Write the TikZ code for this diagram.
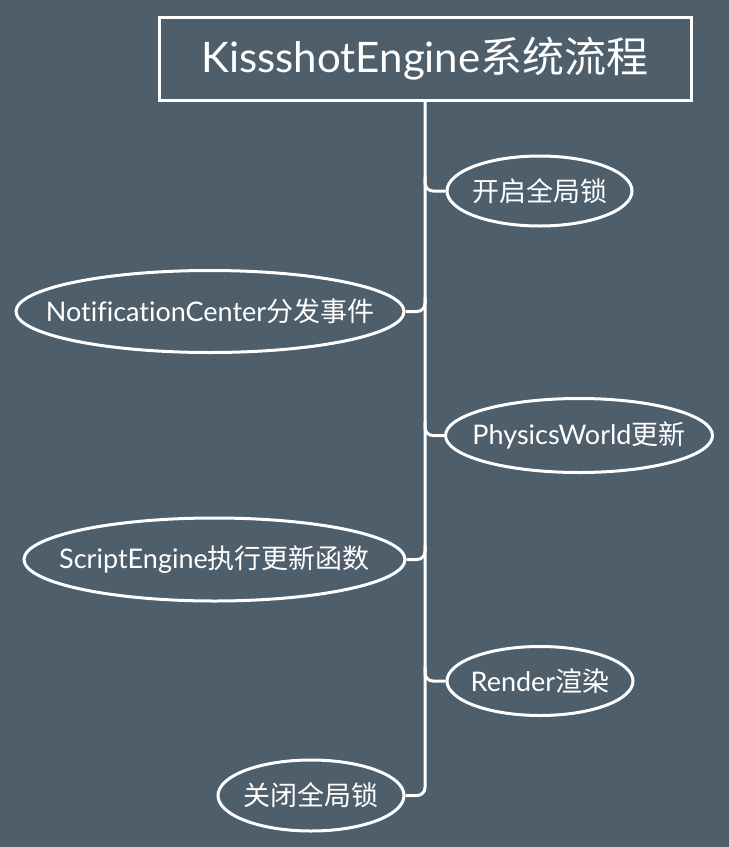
\documentclass[tikz,border=0pt]{standalone}
\usepackage{fontspec}
\setmainfont{Lato}[Ligatures=NoCommon]
\newfontfamily\cjk{Noto Sans CJK SC}
\usetikzlibrary{shapes.geometric}
\definecolor{slate}{HTML}{4F5E6B}
\newcommand\topictext[2]{\makebox[0pt]{#1{\cjk #2}}}
\tikzset{
  roottopic/.style={draw, line width=3pt, minimum width=532, minimum height=83,
    inner sep=0pt, font=\fontsize{42}{48}\selectfont},
  subtopic/.style={draw, ellipse, line width=3pt, inner sep=0pt,
    font=\fontsize{27}{31}\selectfont},
  link/.style={line width=3pt, rounded corners=8pt}
}
\begin{document}
\begin{tikzpicture}[x=1pt, y=-1pt, white]
\fill[slate] (0,0) rectangle (729,847);
\useasboundingbox (0,0) rectangle (729,847);

\node[roottopic] (root) at (425,58.5) {\topictext{KissshotEngine}{系统流程}};

\node[subtopic, minimum width=185, minimum height=70] (kaiqi) at (539.5,191) {\topictext{}{开启全局锁}};
\node[subtopic, minimum width=388, minimum height=82] (fenfa) at (210,311.5) {\topictext{NotificationCenter}{分发事件}};
\node[subtopic, minimum width=267, minimum height=74] (wuli) at (579,435.5) {\topictext{PhysicsWorld}{更新}};
\node[subtopic, minimum width=381, minimum height=83] (jiaoben) at (214.5,559.5) {\topictext{ScriptEngine}{执行更新函数}};
\node[subtopic, minimum width=186, minimum height=69] (xuanran) at (540,681) {\topictext{Render}{渲染}};
\node[subtopic, minimum width=186, minimum height=71] (guanbi) at (311,795.5) {\topictext{}{关闭全局锁}};

% trunk
\draw[link] (root.south) |- (guanbi.east);
\foreach \n/\a in {kaiqi/west, fenfa/east, wuli/west, jiaoben/east, xuanran/west}
{
  \draw[link] (root.south |- \n.\a) ++(0,-14) |- (\n.\a);
}
\end{tikzpicture}
\end{document}
